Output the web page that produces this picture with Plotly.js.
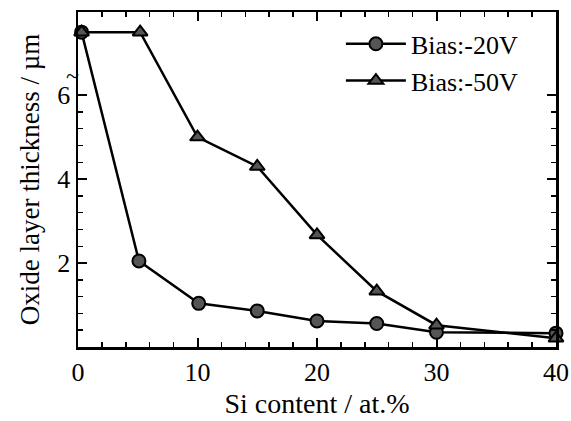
<!DOCTYPE html>
<html>
<head>
<meta charset="utf-8">
<script src="https://cdn.plot.ly/plotly-3.0.1.min.js"></script>
<style>
  html, body { margin: 0; padding: 0; background: #fff; }
  #chart { width: 571px; height: 421px; }
</style>
</head>
<body>
<div id="chart"></div>
<script>
// Si content (at.%) and oxide layer thickness (µm) for two bias voltages
const siContent20 = [0.3, 5.1, 10.1, 15, 20, 25, 30, 40];
const thick20 = [7.5, 2.05, 1.04, 0.86, 0.62, 0.56, 0.35, 0.33];

const siContent50 = [0.3, 5.2, 10, 15, 20, 25, 30, 40];
const thick50 = [7.5, 7.5, 5.0, 4.3, 2.67, 1.33, 0.52, 0.21];

const seriesNames = ['Bias:-20V', 'Bias:-50V'];

const xTicks = [0, 10, 20, 30, 40];
const yTicks = [2, 4, 6];

const serif = 'Liberation Serif';

const traces = [
  {
    x: siContent20, y: thick20, name: seriesNames[0],
    mode: 'lines+markers', type: 'scatter', cliponaxis: false,
    line: { color: '#000', width: 2.5 },
    marker: { symbol: 'circle', size: 13, color: '#555', line: { color: '#000', width: 2 } }
  },
  {
    x: siContent50, y: thick50, name: seriesNames[1],
    mode: 'lines+markers', type: 'scatter', cliponaxis: false,
    line: { color: '#000', width: 2.5 },
    marker: { symbol: 'triangle-up', size: 13, color: '#555', line: { color: '#000', width: 2 } }
  }
];

// minor ticks on y only up to the axis break
const yMinor = [];
for (let v = 0.4; v < 6; v += 0.4) {
  if (Math.abs(v / 2 - Math.round(v / 2)) > 1e-6) yMinor.push(+v.toFixed(2));
}

const layout = {
  width: 571, height: 421,
  margin: { l: 78, r: 15, t: 12, b: 74 },
  paper_bgcolor: '#fff', plot_bgcolor: '#fff',
  font: { family: serif, color: '#000' },
  showlegend: true,
  legend: {
    x: 0.55, y: 0.975, xanchor: 'left', yanchor: 'top',
    bgcolor: 'rgba(0,0,0,0)', font: { family: serif, size: 26, color: '#000' },
    tracegroupgap: 0, itemwidth: 60
  },
  xaxis: {
    range: [0, 40], tickmode: 'array', tickvals: xTicks,
    ticks: 'inside', ticklen: 9, tickwidth: 2, tickcolor: '#000',
    minor: { dtick: 2, tick0: 0, ticks: 'inside', ticklen: 5, tickwidth: 1.5, tickcolor: '#000' },
    showline: true, linewidth: 2.5, linecolor: '#000', mirror: 'ticks',
    showgrid: false, zeroline: false,
    tickfont: { family: serif, size: 26, color: '#000' },
    title: { text: 'Si content / at.%', font: { family: serif, size: 28, color: '#000' }, standoff: 8 }
  },
  yaxis: {
    range: [0, 7.98], tickmode: 'array', tickvals: yTicks,
    ticks: 'inside', ticklen: 9, tickwidth: 2, tickcolor: '#000',
    minor: { tickmode: 'array', tickvals: yMinor, ticks: 'inside', ticklen: 5, tickwidth: 1.5, tickcolor: '#000' },
    showline: true, linewidth: 2.5, linecolor: '#000', mirror: 'ticks',
    showgrid: false, zeroline: false,
    tickfont: { family: serif, size: 26, color: '#000' },
    title: { text: 'Oxide layer thickness / µm', font: { family: serif, size: 27, color: '#000' }, standoff: 10 }
  },
  annotations: [
    { text: '~', xref: 'paper', yref: 'y', x: 0, y: 6.45, xanchor: 'right', yanchor: 'middle',
      showarrow: false, font: { family: serif, size: 24, color: '#000' }, xshift: 3 }
  ]
};

Plotly.newPlot('chart', traces, layout, { displayModeBar: false, staticPlot: true });
</script>
</body>
</html>
